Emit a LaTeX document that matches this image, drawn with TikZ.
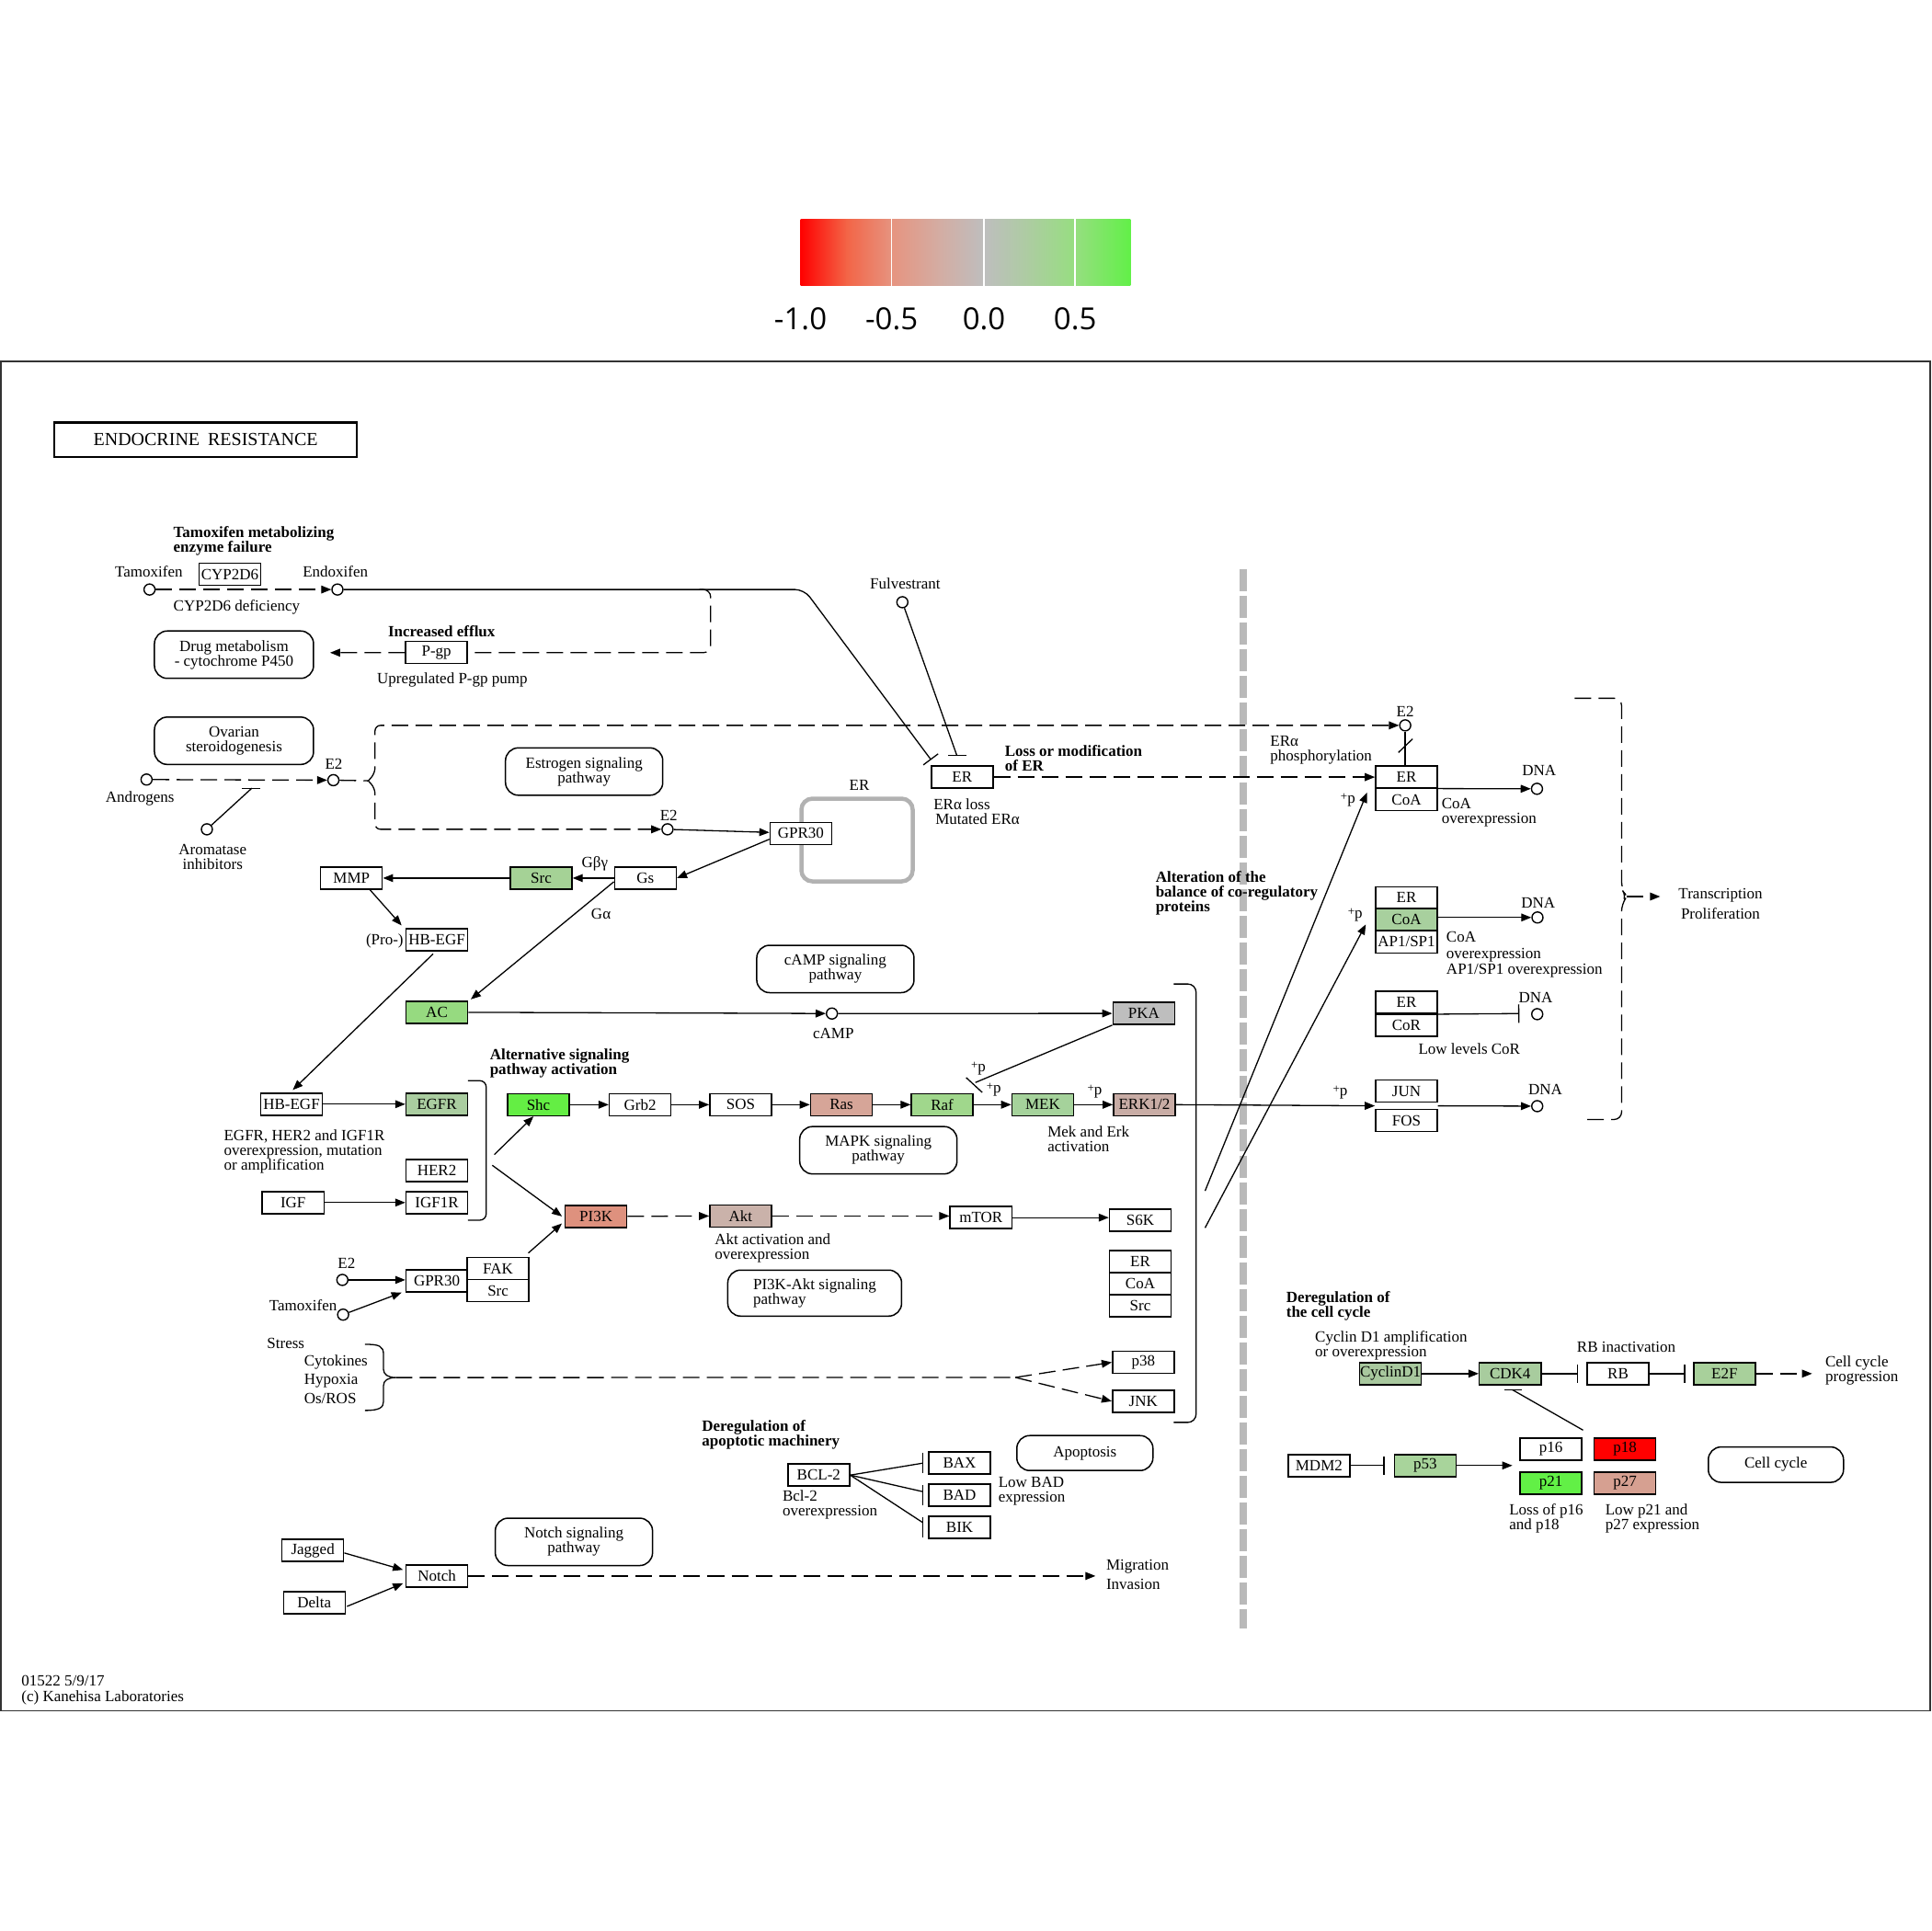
\documentclass[tikz,border=0pt]{standalone}
\usepackage{fontspec}
\setmainfont{Liberation Serif}
\newfontfamily\legfont{Open Sans}
\usetikzlibrary{arrows.meta,calc}
\newcommand{\kf}{\fontsize{17}{16}\selectfont}
\newcommand{\kbf}{\fontsize{17}{16}\selectfont\bfseries}
\newcommand{\plusp}{\raisebox{3pt}{\fontsize{13}{13}\selectfont+}p}
\definecolor{cSrc}{RGB}{165,210,150}
\definecolor{cAC}{RGB}{150,218,128}
\definecolor{cEGFR}{RGB}{170,205,160}
\definecolor{cShc}{RGB}{100,238,68}
\definecolor{cRas}{RGB}{214,165,152}
\definecolor{cRaf}{RGB}{160,215,140}
\definecolor{cMEK}{RGB}{165,210,155}
\definecolor{cERK}{RGB}{200,172,165}
\definecolor{cPKA}{RGB}{190,190,190}
\definecolor{cPI3K}{RGB}{222,145,126}
\definecolor{cAkt}{RGB}{202,178,170}
\definecolor{cCoA}{RGB}{168,208,158}
\definecolor{cCyc}{RGB}{168,200,158}
\definecolor{cCDK}{RGB}{168,204,158}
\definecolor{cE2F}{RGB}{168,208,155}
\definecolor{cP53}{RGB}{168,212,155}
\definecolor{cP18}{RGB}{255,0,0}
\definecolor{cP21}{RGB}{98,240,70}
\definecolor{cP27}{RGB}{214,160,145}
\definecolor{lg0}{RGB}{255,0,0}
\definecolor{lg1}{RGB}{243,100,70}
\definecolor{lg2}{RGB}{230,148,128}
\definecolor{lg3}{RGB}{212,172,162}
\definecolor{lg4}{RGB}{190,190,190}
\definecolor{lg5}{RGB}{172,205,160}
\definecolor{lg6}{RGB}{150,222,128}
\definecolor{lg7}{RGB}{98,240,72}
\definecolor{sepgray}{RGB}{185,185,185}
\definecolor{ergray}{RGB}{178,178,178}
\begin{document}
\begin{tikzpicture}[x=1.339pt,y=-1.339pt,font=\kf,line width=1.3pt,
 gene/.style={draw,line width=1.5pt,minimum width=67pt,minimum height=24pt,inner sep=0pt,fill=white},
 pw/.style={draw,line width=1.5pt,rounded corners=14pt,align=center,inner sep=0pt,minimum width=171pt,minimum height=51.5pt},
 cpd/.style={draw,circle,line width=1.4pt,minimum size=12pt,inner sep=0pt,fill=white},
 lbl/.style={inner sep=0pt,align=left,anchor=west},
 clbl/.style={inner sep=0pt,align=center},
 bl/.style={inner sep=0pt,align=left,anchor=west,font=\kbf},
 arr/.style={-{Triangle[length=11pt,width=8.5pt]}},
 inh/.style={-{Bar[width=20pt]}},
 kd/.style={dash pattern=on 18pt off 8pt}]
\useasboundingbox (0,0) rectangle (1568,1568);
\fill[white] (0,0) rectangle (1568,1568);

% legend
\foreach \xa/\xb/\ca/\cb in {650/687.5/lg0/lg1,687/724.5/lg1/lg2,724/762/lg2/lg3,761.5/799.5/lg3/lg4,799/836.5/lg4/lg5,836/873.5/lg5/lg6,873/918/lg6/lg7}
  \shade[left color=\ca,right color=\cb] (\xa,178) rectangle (\xb,232);
\foreach \t in {724,799,873} \draw[white,line width=1.5pt] (\t,178) -- (\t,232);
\foreach \t/\s in {650/-1.0,724/-0.5,799/0.0,873/0.5}
  \node[font=\legfont\fontsize{33}{33}\selectfont] at (\t,259) {\s};

% frame and title
\draw[line width=1.5pt,black!80] (0.6,293.5) rectangle (1567.4,1389);
\node[draw,line width=2.6pt,minimum width=329pt,minimum height=37.5pt,inner sep=0pt,font=\fontsize{20}{20}\selectfont] (title) at (167,357) {ENDOCRINE\hspace{0.45em}RESISTANCE};

% separator
\draw[line width=8.7pt,sepgray,dash pattern=on 24pt off 5pt] (1009.5,462) -- (1009.5,1322);

% ER gray rectangle
\node[draw=ergray,line width=4.5pt,rounded corners=12pt,minimum width=121pt,minimum height=90pt] (ergray) at (695.9,682.1) {};

% pathway boxes
\node[pw,minimum width=173pt] (drug) at (190,531.6) {Drug metabolism\\- cytochrome P450};
\node[pw,minimum width=173pt] (ovar) at (190,601.5) {Ovarian\\steroidogenesis};
\node[pw] (estr) at (474.3,626.5) {Estrogen signaling\\pathway};
\node[pw] (campp) at (678.3,786.8) {cAMP signaling\\pathway};
\node[pw] (mapk) at (713.2,934) {MAPK signaling\\pathway};
\node[pw,minimum width=189pt,minimum height=50pt,align=left] (pi3kp) at (661.5,1050) {PI3K-Akt signaling\\pathway};
\node[pw,minimum width=148pt,minimum height=38pt] (apop) at (880.9,1179.9) {Apoptosis};
\node[pw] (notchp) at (466,1252) {Notch signaling\\pathway};
\node[pw,minimum width=147pt,minimum height=38.5pt] (ccyc) at (1442,1189.3) {Cell cycle};

% genes
\node[gene] (cyp) at (186.7,466.4) {CYP2D6};
\node[gene] (pgp) at (354.4,529.9) {P-gp};
\node[gene] (mmp) at (285.4,713) {MMP};
\node[gene,fill=cSrc] (src1) at (439.4,713) {Src};
\node[gene] (gs) at (524,713) {Gs};
\node[gene] (gpr30a) at (650.3,676.7) {GPR30};
\node[gene] (hbegfpro) at (354.7,763) {HB-EGF};
\node[gene,fill=cAC] (ac) at (354.7,822) {AC};
\node[gene] (hbegf) at (236.7,896.6) {HB-EGF};
\node[gene,fill=cEGFR] (egfr) at (354.7,896.6) {EGFR};
\node[gene] (her2) at (354.7,950.4) {HER2};
\node[gene] (igf) at (238,976.5) {IGF};
\node[gene] (igf1r) at (354.7,976.5) {IGF1R};
\node[gene,fill=cShc] (shc) at (437.2,897) {Shc};
\node[gene] (grb2) at (519.8,897) {Grb2};
\node[gene] (sos) at (601.4,897) {SOS};
\node[gene,fill=cRas] (ras) at (683.2,897) {Ras};
\node[gene,fill=cRaf] (raf) at (765,897) {Raf};
\node[gene,fill=cMEK] (mek) at (846.7,897) {MEK};
\node[gene,fill=cERK] (erk) at (929.2,897) {ERK1/2};
\node[gene,fill=cPKA] (pka) at (928.7,822.9) {PKA};
\node[gene,fill=cPI3K] (pi3k) at (483.9,987.7) {PI3K};
\node[gene,fill=cAkt] (akt) at (601.4,987.4) {Akt};
\node[gene] (mtor) at (796.5,988.7) {mTOR};
\node[gene] (s6k) at (925.9,990.7) {S6K};
\node[gene] (er3) at (925.9,1024.4) {ER};
\node[gene] (coa3) at (925.9,1042.3) {CoA};
\node[gene] (src3) at (925.9,1060.3) {Src};
\node[gene] (gpr30b) at (354.7,1040) {GPR30};
\node[gene] (fak) at (404.4,1030) {FAK};
\node[gene] (src2) at (404.4,1048) {Src};
\node[gene] (p38) at (928.3,1106.2) {p38};
\node[gene] (jnk) at (928.3,1137.8) {JNK};
\node[gene] (bcl2) at (664.8,1197.8) {BCL-2};
\node[gene] (bax) at (779.2,1188.1) {BAX};
\node[gene] (bad) at (779.2,1214.2) {BAD};
\node[gene] (bik) at (779.2,1240.3) {BIK};
\node[gene] (jagged) at (254,1259) {Jagged};
\node[gene] (delta) at (255.2,1301.4) {Delta};
\node[gene] (notch) at (354.8,1279.7) {Notch};
\node[gene] (erloss) at (781.2,631) {ER};
\node[gene] (er1) at (1142,630.8) {ER};
\node[gene] (coa1) at (1142,649.4) {CoA};
\node[gene] (er2) at (1142,729) {ER};
\node[gene,fill=cCoA] (coa2) at (1142,746.8) {CoA};
\node[gene] (ap1) at (1142,764.8) {AP1/SP1};
\node[gene] (er4) at (1142,814) {ER};
\node[gene] (cor) at (1142,832.5) {CoR};
\node[gene] (jun) at (1142,886) {JUN};
\node[gene] (fos) at (1142,909.9) {FOS};
\node[gene,fill=cCyc] (cyc) at (1129,1115.4) {CyclinD1};
\node[gene,fill=cCDK] (cdk4) at (1226.2,1115.4) {CDK4};
\node[gene] (rb) at (1313.8,1115.4) {RB};
\node[gene,fill=cE2F] (e2f) at (1400.2,1115.4) {E2F};
\node[gene] (p16) at (1259.3,1176.8) {p16};
\node[gene,fill=cP18] (p18) at (1319.5,1176.8) {p18};
\node[gene,fill=cP21] (p21) at (1259.3,1204.3) {p21};
\node[gene,fill=cP27] (p27) at (1319.5,1204.3) {p27};
\node[gene] (mdm2) at (1071,1190) {MDM2};
\node[gene,fill=cP53] (p53) at (1157.2,1190) {p53};

% compounds
\node[cpd] (tam1) at (121.4,478.7) {};
\node[cpd] (endo) at (274,478.7) {};
\node[cpd] (andr) at (119,633) {};
\node[cpd] (e2a) at (270.7,633.5) {};
\node[cpd] (arom) at (168,673.4) {};
\node[cpd] (e2b) at (542,673.4) {};
\node[cpd] (fulv) at (732.7,489) {};
\node[cpd] (e2c) at (1141,589) {};
\node[cpd] (camp) at (675.5,823) {};
\node[cpd] (dna1) at (1248,640.5) {};
\node[cpd] (dna2) at (1248.4,745) {};
\node[cpd] (dna3) at (1248.2,823.5) {};
\node[cpd] (dna4) at (1248.2,898.2) {};
\node[cpd] (e2d) at (278,1039.3) {};
\node[cpd] (tam2) at (278.6,1067.5) {};

% connectors: top left
\draw[kd,arr] (tam1) -- (endo);
\draw[rounded corners=10pt,inh] (endo) -- (653,478.7) -- (756,617);
\draw[kd,rounded corners=8pt] (568,478.7) -- (577,478.7) -- (577,530) -- (pgp.east);
\coordinate (dmend) at (268,530);
\draw[kd,arr] (pgp.west) -- (dmend);
\draw[kd,arr] (andr) -- (e2a);
\coordinate (aromT) at (204.5,640);
\draw (arom) -- (aromT);
\draw (196.4,640) -- (211.5,640);
\coordinate (brk) at (299,634);
\draw[kd] (e2a) -- (brk);
\draw[kd,rounded corners=6pt,arr] (brk) -- (304.5,628) -- (304.5,589) -- (e2c);
\draw[kd,rounded corners=6pt,arr] (brk) -- (304.5,640) -- (304.5,673.4) -- (e2b);
\draw[arr] (e2b) -- (gpr30a);
\draw[arr] ($(gpr30a.west)!0.5!(gpr30a.south west)$) -- (gs.east);
\draw[arr] (gs.west) -- (src1.east);
\draw[arr] (src1.west) -- (mmp.east);
\draw[arr] ($(mmp.south)+(15,0)$) -- ($(hbegfpro.north west)+(-3,-2)$);
\draw[arr] ($(gs.west)+(0,3)$) -- ($(ac.north east)+(2,-1)$);
\draw[arr] ($(hbegfpro.south)+(-3,2)$) -- ($(hbegf.north)+(1,-2)$);
\draw[arr] (hbegf.east) -- (egfr.west);
\draw[arr] (igf.east) -- (igf1r.west);
\draw[arr] (ac.east) -- (camp);
\draw[arr] (camp) -- (pka.west);
\coordinate (pkap) at (792,879);
\draw (pka.south west) -- (pkap);
\draw (784.5,875) -- (797.5,887);

% fulvestrant / ER
\coordinate (fulvT) at (777,613.6);
\draw (fulv) -- (fulvT);
\draw (770,613.6) -- (784.4,613.6);
\draw[kd,arr] (erloss.east) -- (erloss.east -| er1.west);
\draw (e2c) -- (e2c |- er1.north);
\draw (1135.5,611) -- (1147,600);
\draw[arr] (er1.south east) -- (dna1);
\draw[arr] (coa2.east |- dna2) -- (dna2);
\draw[inh] (er4.south east) -- (1233.7,823);
\draw[arr] ($(jun.south east)!0.5!(fos.north east)$) -- (dna4);

% bracket EGFR group
\draw[rounded corners=7pt] (380,877.5) -- (394.8,877.5) -- (394.8,990.8) -- (380,990.8);
\coordinate (bra) at (401.4,937.5);
\coordinate (brb) at (399.7,946.2);
\draw[arr] (bra) -- ($(shc.south)+(-4,0)$);
\draw[arr] (brb) -- ($(pi3k.west)+(-2,0)$);
\draw[arr] (shc.east) -- (grb2.west);
\draw[arr] (grb2.east) -- (sos.west);
\draw[arr] (sos.east) -- (ras.west);
\draw[arr] (ras.east) -- (raf.west);
\draw[arr] (raf.east) -- (mek.west);
\draw[arr] (mek.east) -- (erk.west);
\draw[arr] (erk.east) -- ($(jun.south west)!0.5!(fos.north west)$);
\draw[kd,arr] (pi3k.east) -- (akt.west);
\draw[kd,arr] (akt.east) -- (akt.east -| mtor.west);
\draw[arr] (mtor.east) -- (mtor.east -| s6k.west);
\draw[arr] (e2d) -- (e2d -| gpr30b.west);
\draw[arr] (tam2) -- ($(gpr30b.south west)+(-3,0)$);
\draw[arr] ($(fak.north east)+(-1,-3)$) -- ($(pi3k.west)!0.6!(pi3k.south west)+(-2,0)$);

% big bracket and long lines
\draw[rounded corners=9pt] (953,799) -- (971.2,799) -- (971.2,1155) -- (953,1155);
\coordinate (lla) at (978.5,967);
\coordinate (llb) at (978.5,997);
\coordinate (lltipa) at (1110,643.5);
\coordinate (lltipb) at (1109,750.6);
\draw[arr] (lla) -- (lltipa);
\draw[arr] (llb) -- (lltipb);

% right dashed bracket
\draw[kd,rounded corners=8pt] (1278.6,567) -- (1316.7,567) -- (1316.7,722) -- (1321,728) -- (1316.7,734) -- (1316.7,909) -- (1283,909);
\coordinate (trs) at (1321,728);
\coordinate (trtip) at (1348,728);
\draw[kd,arr] (trs) -- (trtip);

% stress
\draw (296.4,1091.6) .. controls (308,1091.6) and (311.4,1093) .. (311.4,1100) -- (311.4,1112) .. controls (311.4,1116) and (315,1118.6) .. (321.4,1118.6) .. controls (315,1118.6) and (311.4,1121) .. (311.4,1125) -- (311.4,1138) .. controls (311.4,1143) and (308,1145.3) .. (296.4,1145.3);
\coordinate (stt) at (321.4,1118.6);
\coordinate (stb) at (824.5,1118.5);
\draw[kd] (stt) -- (stb);
\draw[kd,arr] (stb) -- (p38.west);
\draw[kd,arr] (stb) -- (jnk.west);

% apoptosis
\draw (bcl2.east) -- ($(bax.west)+(-4.4,0)$);
\draw (bcl2.east) -- ($(bad.west)+(-4.4,-3)$);
\draw (bcl2.east) -- ($(bik.west)+(-4.4,-4)$);
\foreach \n in {bax,bad,bik}
  \draw ($(\n.north west)+(-4.4,1)$) -- ($(\n.south west)+(-4.4,-1.5)$);

% notch
\draw[arr] ($(jagged.east)+(0,2)$) -- ($(notch.west)+(-2,-5)$);
\draw[arr] ($(delta.east)+(1,3)$) -- ($(notch.west)+(-2,6)$);
\coordinate (migtip) at (889.5,1279.7);
\draw[kd,arr] (notch.east) -- (migtip);

% cell cycle
\draw[arr] (cyc.east) -- (cdk4.west);
\draw[inh] (cdk4.east) -- (1281.6,1115.4);
\draw[inh] (rb.east) -- (1368.4,1115.4);
\coordinate (cctip) at (1471.4,1115.4);
\draw[kd,arr] (e2f.east) -- (cctip);
\coordinate (p16s) at ($(p16.north east)+(0.5,-6)$);
\coordinate (cdkT) at (1228,1128.5);
\draw (p16s) -- (cdkT);
\draw (1221.5,1128.5) -- (1236,1128.5);
\draw[inh] (mdm2.east) -- (1124.3,1190);
\coordinate (p53tip) at (1228,1190);
\draw[arr] (p53.east) -- (p53tip);

% labels
\node[bl] at (140.4,439) {Tamoxifen metabolizing\\enzyme failure};
\node[lbl] at (93,464.3) {Tamoxifen};
\node[lbl] at (245.4,464.3) {Endoxifen};
\node[lbl] at (140.4,493.4) {CYP2D6 deficiency};
\node[bl] at (314.7,512.8) {Increased efflux};
\node[lbl] at (305.8,552) {Upregulated P-gp pump};
\node[clbl] at (113.7,648.5) {Androgens};
\node[clbl] at (172.7,695.5) {Aromatase\\inhibitors};
\node[clbl] at (271,620.4) {E2};
\node[clbl] at (543,662) {E2};
\node[clbl] at (1141,577.5) {E2};
\node[clbl] at (281.4,1026) {E2};
\node[clbl] at (735,474.2) {Fulvestrant};
\node[bl] at (815.5,615.5) {Loss or modification\\of ER};
\node[lbl] at (757.6,658.8) {ERα loss\\\hspace*{2pt}Mutated ERα};
\node[clbl] at (697.8,637.3) {ER};
\node[clbl] at (483,701) {Gβγ};
\node[clbl] at (488,741.8) {Gα};
\node[lbl,anchor=east] at (328,764) {(Pro-)};
\node[clbl] at (676.7,839) {cAMP};
\node[clbl] at (794.5,867.6) {\plusp};
\node[clbl] at (806.9,884.7) {\plusp};
\node[clbl] at (888.9,886.5) {\plusp};
\node[clbl] at (1088.3,887.5) {\plusp};
\node[clbl] at (1094.5,649.7) {\plusp};
\node[clbl] at (1100.4,743) {\plusp};
\node[bl] at (397.3,863.2) {Alternative signaling\\pathway activation};
\node[lbl] at (181.4,935.2) {EGFR, HER2 and IGF1R\\overexpression, mutation\\or amplification};
\node[lbl] at (850.2,924.8) {Mek and Erk\\activation};
\node[lbl] at (580,1013.2) {Akt activation and\\overexpression};
\node[bl] at (937.9,725) {Alteration of the\\balance of co-regulatory\\proteins};
\node[lbl] at (1031,608.8) {ERα\\phosphorylation};
\node[clbl] at (1249.8,625.6) {DNA};
\node[clbl] at (1249,733.5) {DNA};
\node[clbl] at (1247,809.8) {DNA};
\node[clbl] at (1254.7,884.5) {DNA};
\node[lbl] at (1170.2,659.7) {CoA\\overexpression};
\node[lbl,font=\fontsize{17}{17.5}\selectfont] at (1174,775.2) {CoA\\overexpression\\AP1/SP1 overexpression};
\node[clbl] at (1193,851.4) {Low levels CoR};
\node[clbl,font=\fontsize{17}{21.5}\selectfont] at (1397,734) {Transcription\\Proliferation};
\node[lbl] at (216.4,1091) {Stress};
\node[lbl,font=\fontsize{17}{20.8}\selectfont] at (246.5,1120) {Cytokines\\Hypoxia\\Os/ROS};
\node[lbl,anchor=east] at (274,1060) {Tamoxifen};
\node[bl] at (569.5,1164.8) {Deregulation of\\apoptotic machinery};
\node[lbl] at (635,1221.5) {Bcl-2\\overexpression};
\node[lbl] at (810.2,1211.2) {Low BAD\\expression};
\node[lbl,font=\fontsize{17}{21}\selectfont] at (897.8,1278.7) {Migration\\Invasion};
\node[bl] at (1044,1060.2) {Deregulation of\\the cell cycle};
\node[lbl] at (1067.4,1092.6) {Cyclin D1 amplification\\or overexpression};
\node[clbl] at (1320.5,1094.1) {RB inactivation};
\node[lbl] at (1481.7,1112.5) {Cell cycle\\progression};
\node[lbl] at (1225,1233.2) {Loss of p16\\and p18};
\node[lbl] at (1303,1233.2) {Low p21 and\\p27 expression};
\node[lbl,font=\fontsize{17}{17.4}\selectfont] at (17,1372.5) {01522 5/9/17\\(c) Kanehisa Laboratories};
\end{tikzpicture}
\end{document}
